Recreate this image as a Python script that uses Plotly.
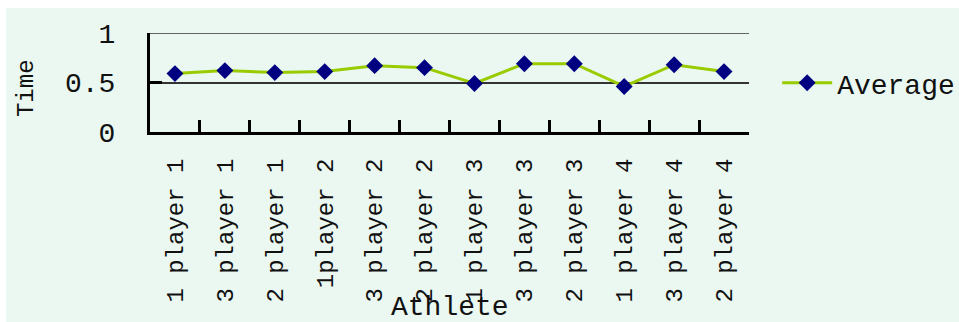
import plotly.graph_objects as go

# Athletes (category axis) and their average time
athletes = ["1 player 1", "3 player 1", "2 player 1", "1player 2",
            "3 player 2", "2 player 2", "1 player 3", "3 player 3",
            "2 player 3", "1 player 4", "3 player 4", "2 player 4"]
average = [0.59, 0.62, 0.60, 0.61, 0.67, 0.65, 0.49, 0.69, 0.69, 0.46, 0.68, 0.61]

y_ticks = [0, 0.5, 1]
y_tick_text = ["0", "0.5", "1"]

FONT = "Liberation Mono"
BG = "#EAF8F1"
GRID = "#333333"

fig = go.Figure()
fig.add_trace(go.Scatter(
    x=athletes, y=average, name="Average",
    mode="lines+markers",
    line=dict(color="#99CC00", width=3),
    marker=dict(symbol="diamond", color="#000080", size=13),
))

fig.update_layout(
    width=959, height=322,
    margin=dict(l=150, r=210, t=33, b=190, autoexpand=False),
    paper_bgcolor=BG, plot_bgcolor=BG,
    font=dict(family=FONT, color="#111111"),
    showlegend=True,
    legend=dict(x=1.047, xanchor="left", y=0.495, yanchor="middle",
                itemwidth=50,
                bgcolor="rgba(0,0,0,0)", borderwidth=0,
                font=dict(family=FONT, size=28, color="#111111")),
    xaxis=dict(
        type="category", tickmode="array", tickvals=athletes, ticktext=athletes,
        tickson="boundaries", ticks="inside", ticklen=12, tickwidth=3,
        tickcolor="#000000", tickangle=-90,
        tickfont=dict(family=FONT, size=24, color="#111111"),
        ticklabelstandoff=14,
        showline=True, linecolor="#000000", linewidth=3,
        showgrid=False, range=[-0.5, len(athletes) - 0.5],
    ),
    yaxis=dict(
        range=[0, 1], tickmode="array", tickvals=y_ticks, ticktext=y_tick_text,
        ticks="inside", ticklen=12, tickwidth=3, tickcolor="#000000",
        tickfont=dict(family=FONT, size=28, color="#111111"),
        ticklabelstandoff=26,
        showline=True, linecolor="#000000", linewidth=3,
        showgrid=True, gridcolor=GRID, gridwidth=1.5,
        zeroline=False,
    ),
    shapes=[
        # white strips along the top and left edges of the page
        dict(type="rect", xref="paper", yref="paper", x0=-0.3, x1=1.5,
             y0=(132 - 8) / 99, y1=1.5, fillcolor="#FFFFFF", line_width=0,
             layer="below"),
        dict(type="rect", xref="paper", yref="paper", x0=-0.3, x1=(6 - 150) / 599,
             y0=-2.0, y1=1.5, fillcolor="#FFFFFF", line_width=0, layer="below"),
        # gridline at the top of the value range
        dict(type="line", xref="paper", yref="y", x0=0, x1=1, y0=1, y1=1,
             line=dict(color=GRID, width=1.5), layer="below"),
    ],
    annotations=[
        dict(text="Time", xref="paper", yref="paper", x=-0.207, y=0.444,
             textangle=-90, showarrow=False, xanchor="center", yanchor="middle",
             font=dict(family=FONT, size=24, color="#111111")),
        dict(text="Athlete", xref="paper", yref="paper", x=0.501, y=-1.768,
             showarrow=False, xanchor="center", yanchor="middle",
             font=dict(family=FONT, size=28, color="#111111")),
    ],
)

fig.write_html("out.html")
